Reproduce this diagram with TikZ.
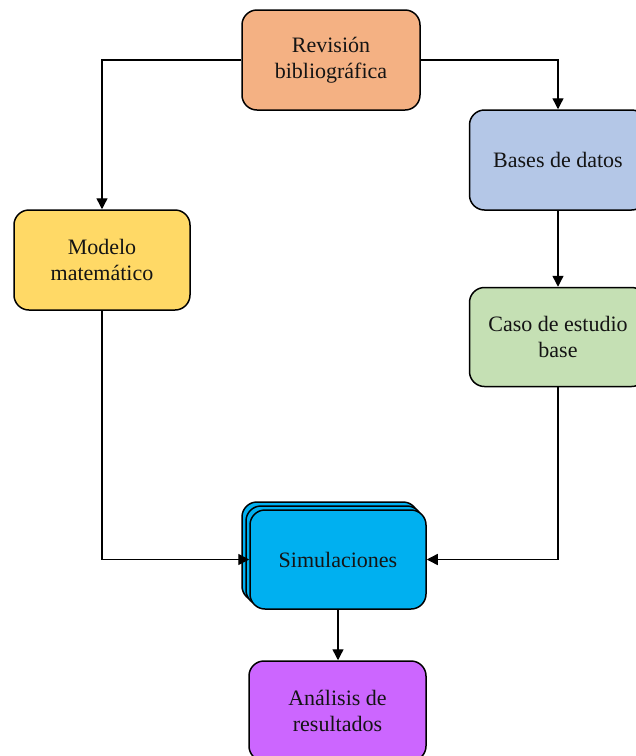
\documentclass[tikz,border=0pt]{standalone}
\usepackage{fontspec}
\setmainfont{Liberation Serif}
\usetikzlibrary{arrows.meta}

\definecolor{revfill}{HTML}{F4B183}
\definecolor{basesfill}{HTML}{B4C7E7}
\definecolor{modfill}{HTML}{FFD966}
\definecolor{casofill}{HTML}{C5E0B4}
\definecolor{simfill}{HTML}{00B0F0}
\definecolor{anafill}{HTML}{CC66FF}
\definecolor{inkcol}{HTML}{141414}

\tikzset{
  stepbox/.style={draw=black, line width=1.5pt, rounded corners=15pt,
    minimum width=177pt, minimum height=100pt, inner sep=0pt,
    align=center, text=inkcol, font=\fontsize{22}{25.5}\selectfont},
  conn/.style={draw=black, line width=1.4pt,
    -{Triangle[length=11pt,width=11pt]}},
}

\begin{document}
\begin{tikzpicture}[x=1pt,y=-1pt]
  \useasboundingbox (0,0) rectangle (636,756);

  % process boxes
  \node[stepbox, fill=revfill, minimum width=178pt] (rev) at (331,60) {Revisión\\bibliográfica};
  \node[stepbox, fill=basesfill] (bases) at (558,160) {Bases de datos};
  \node[stepbox, fill=modfill, minimum width=176pt] (mod) at (102,260) {Modelo\\matemático};
  \node[stepbox, fill=casofill, minimum height=99pt] (caso) at (558,337) {Caso de estudio\\base};

  % stacked simulation box
  \node[stepbox, fill=simfill, minimum width=176pt, minimum height=99pt] (simbackb) at (330,551.5) {};
  \node[stepbox, fill=simfill, minimum width=176pt, minimum height=99pt] (simbacka) at (334,555.5) {};
  \node[stepbox, fill=simfill, minimum width=176pt, minimum height=99pt] (sim) at (338,559.5) {Simulaciones};

  \node[stepbox, fill=anafill] (ana) at (337.5,711) {Análisis de\\resultados};

  % connectors
  \draw[conn] (rev.west) -| (mod.north);
  \draw[conn] (rev.east) -| (bases.north);
  \draw[conn] (bases.south) -- (caso.north);
  \draw[conn] (mod.south) |- (sim.west);
  \draw[conn] (caso.south) |- (sim.east);
  \draw[conn] (sim.south) -- (sim.south |- ana.north);
\end{tikzpicture}
\end{document}
